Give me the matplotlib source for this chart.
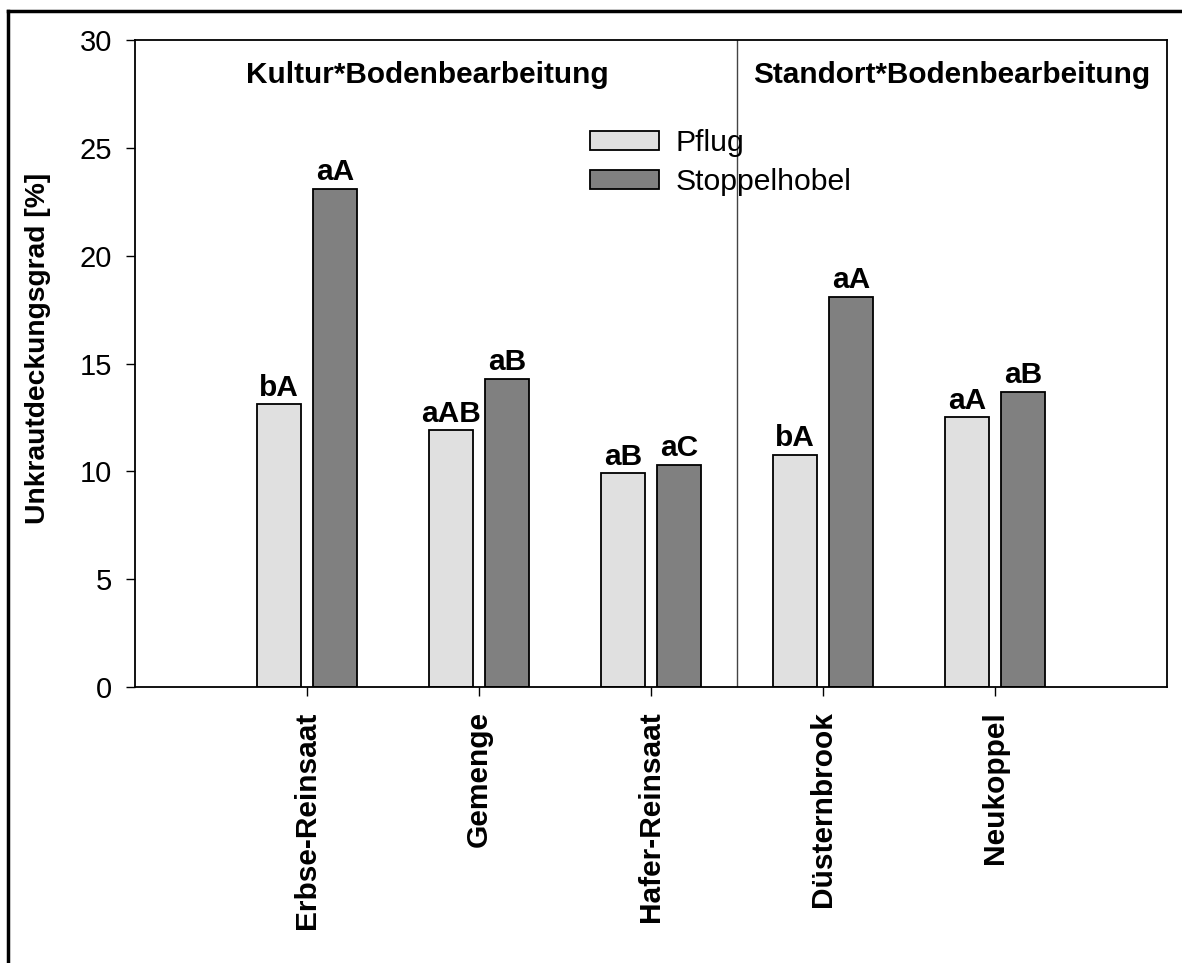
import matplotlib
matplotlib.use("Agg")
import matplotlib.pyplot as plt
from matplotlib.lines import Line2D
import numpy as np

plt.rcParams['font.family'] = ['Liberation Sans', 'DejaVu Sans']

categories = ["Erbse-Reinsaat", "Gemenge", "Hafer-Reinsaat", "Düsternbrook", "Neukoppel"]
pflug = [13.1, 11.9, 9.9, 10.75, 12.5]
stoppelhobel = [23.1, 14.3, 10.3, 18.1, 13.7]
pflug_letters = ["bA", "aAB", "aB", "bA", "aA"]
stoppel_letters = ["aA", "aB", "aC", "aA", "aB"]
series_names = ["Pflug", "Stoppelhobel"]
group_titles = ["Kultur*Bodenbearbeitung", "Standort*Bodenbearbeitung"]
yticks = [0, 5, 10, 15, 20, 25, 30]

W, H = 1182, 963
fig = plt.figure(figsize=(W / 100, H / 100), dpi=100)
ax = fig.add_axes([135 / W, 1 - 687 / H, (1167 - 135) / W, (687 - 40) / H])

x = np.arange(1, len(categories) + 1)
bw = 0.256
off = 0.163
b1 = ax.bar(x - off, pflug, bw, color="#e0e0e0", edgecolor="black", linewidth=1.3, label=series_names[0], zorder=2)
b2 = ax.bar(x + off, stoppelhobel, bw, color="#808080", edgecolor="black", linewidth=1.3, label=series_names[1], zorder=2)

for xi, v, t in zip(x - off, pflug, pflug_letters):
    ax.annotate(t, (xi, v), xytext=(0, 2), textcoords="offset points", ha="center", va="bottom",
                fontsize=21.5, fontweight="bold")
for xi, v, t in zip(x + off, stoppelhobel, stoppel_letters):
    ax.annotate(t, (xi, v), xytext=(0, 2), textcoords="offset points", ha="center", va="bottom",
                fontsize=21.5, fontweight="bold")

ax.set_xlim(0, 6)
ax.set_ylim(0, 30)
ax.set_yticks(yticks)
ax.set_yticklabels([str(t) for t in yticks], fontsize=21)
ax.set_xticks(x)
ax.set_xticklabels(categories, rotation=90, fontsize=21.5, fontweight="bold")
ax.tick_params(axis="y", direction="out", length=6.5, width=1, pad=10)
ax.tick_params(axis="x", direction="out", length=6.5, width=1, pad=11)
for s in ax.spines.values():
    s.set_linewidth(1.3)

ax.axvline(3.5, color="#444444", linewidth=1.0, zorder=1)

ax.text(1.70, 28.4, group_titles[0], ha="center", va="center", fontsize=21.4, fontweight="bold")
ax.text(4.75, 28.4, group_titles[1], ha="center", va="center", fontsize=21.4, fontweight="bold")

fig.text(38 / W, 1 - 348 / H, "Unkrautdeckungsgrad [%]", rotation=90, ha="center", va="center",
         fontsize=20.3, fontweight="bold")

leg = ax.legend(handles=[b1, b2], loc="upper left", bbox_to_anchor=(590 / W, 1 - 129 / H),
                bbox_transform=fig.transFigure, frameon=False, fontsize=21.7,
                handlelength=2.3, handleheight=0.6, handletextpad=0.55, labelspacing=0.38,
                borderpad=0, borderaxespad=0)

# outer frame (top and left edges)
fig.add_artist(Line2D([8 / W, 1.0], [1 - 11 / H, 1 - 11 / H], transform=fig.transFigure, color="black", linewidth=2.5))
fig.add_artist(Line2D([8 / W, 8 / W], [1 - 11 / H, 0.0], transform=fig.transFigure, color="black", linewidth=2.5))

fig.savefig("out.png", dpi=100)
